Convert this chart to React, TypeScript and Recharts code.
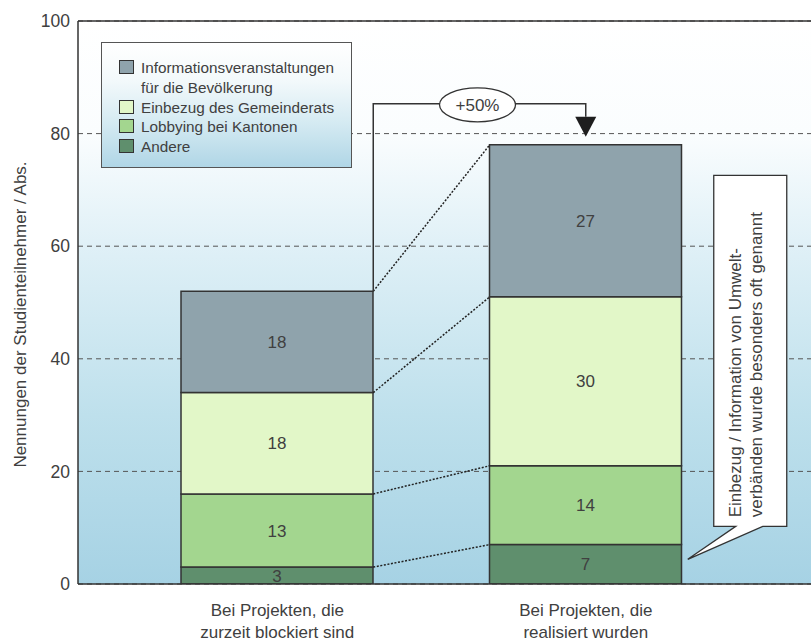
import {
  Bar,
  BarChart,
  CartesianGrid,
  LabelList,
  Legend,
  ReferenceDot,
  ReferenceLine,
  XAxis,
  YAxis,
} from 'recharts'

const FONT = '"Liberation Sans", Arial, Helvetica, sans-serif'
const TEXT = '#404040'
const LINE = '#333333'
const BAR_SIZE = 192

// data
const categories = ['blockiert', 'realisiert']
const tickLabels = [
  ['Bei Projekten, die', 'zurzeit blockiert sind'],
  ['Bei Projekten, die', 'realisiert wurden'],
]
const andere = [3, 7]
const lobbying = [13, 14]
const einbezug = [18, 30]
const information = [18, 27]
const yTicks = [0, 20, 40, 60, 80, 100]
const yLabel = 'Nennungen der Studienteilnehmer / Abs.'
const calloutLines = ['Einbezug / Information von Umwelt-', 'verbänden wurde besonders oft genannt']

// bottom to top
const series = [
  { key: 'andere', name: 'Andere', color: '#5f8f6d', values: andere },
  { key: 'lobbying', name: 'Lobbying bei Kantonen', color: '#a3d68f', values: lobbying },
  { key: 'einbezug', name: 'Einbezug des Gemeinderats', color: '#e2f7c8', values: einbezug },
  { key: 'information', name: 'Informationsveranstaltungen für die Bevölkerung', color: '#8fa3ac', values: information },
]

const data = categories.map((cat, i) => {
  const row: Record<string, string | number> = { cat }
  series.forEach((s) => { row[s.key] = s.values[i] })
  return row
})

// cumulative segment tops per category
const tops = categories.map((_, i) => {
  let sum = 0
  return series.map((s) => (sum += s.values[i]))
})
const total1 = tops[0][tops[0].length - 1]
const total2 = tops[1][tops[1].length - 1]
const growthLabel = `+${Math.round(((total2 - total1) / total1) * 100)}%`

function DottedLink(props: any) {
  const { x1, y1, x2, y2 } = props
  return (
    <line x1={x1 + BAR_SIZE / 2} y1={y1} x2={x2 - BAR_SIZE / 2} y2={y2}
      stroke="#222" strokeWidth={1.5} strokeDasharray="2 1.6" />
  )
}

function GrowthArrow(props: any) {
  const { x1, y1, x2, y2 } = props
  const sx = x1 + BAR_SIZE / 2
  const ly = y2 - 41
  const mx = (sx + x2) / 2 - 2
  return (
    <g>
      <path d={`M${sx},${y1} V${ly} H${x2} V${y2 - 28}`} fill="none" stroke={LINE} strokeWidth={1.5} />
      <path d={`M${x2 - 10.5},${y2 - 28} L${x2 + 10.5},${y2 - 28} L${x2},${y2 - 8} Z`} fill="#1e1e1e" />
      <ellipse cx={mx} cy={ly + 1} rx={38} ry={17} fill="#ffffff" stroke={LINE} strokeWidth={1.3} />
      <text x={mx} y={ly + 1} dy={6} textAnchor="middle" fontSize={17} fill={TEXT} fontFamily={FONT}>
        {growthLabel}
      </text>
    </g>
  )
}

function Callout(props: any) {
  const { cx, cy } = props
  const tx = cx + BAR_SIZE / 2 + 6
  const ty = cy - 5
  const left = tx + 26
  const right = tx + 99
  const top = ty - 384
  const bottom = ty - 33
  const d = `M${left},${top} H${right} V${bottom} H${tx + 75} L${tx},${ty} L${tx + 48},${bottom} H${left} Z`
  const bx = tx + 53
  const by = ty - 42
  return (
    <g>
      <path d={d} fill="#ffffff" stroke={LINE} strokeWidth={1.3} strokeLinejoin="miter" />
      <text transform={`rotate(-90 ${bx} ${by})`} x={bx} y={by} fontSize={17} fill={TEXT} fontFamily={FONT}>
        {calloutLines.map((l, i) => (
          <tspan key={i} x={bx} dy={i === 0 ? 0 : 21}>{l}</tspan>
        ))}
      </text>
    </g>
  )
}

function CategoryTick(props: any) {
  const { x, y, index } = props
  const lines = tickLabels[index] ?? []
  return (
    <text x={x} y={y} textAnchor="middle" fontSize={17} fill={TEXT} fontFamily={FONT}>
      {lines.map((l, i) => (
        <tspan key={i} x={x} dy={i === 0 ? 24 : 21.5}>{l}</tspan>
      ))}
    </text>
  )
}

function YLabel(props: any) {
  const vb = props.viewBox
  const x = vb.x + 8
  const y = vb.y + vb.height / 2 + 12
  return (
    <text transform={`rotate(-90 ${x} ${y})`} x={x} y={y} textAnchor="middle" fontSize={17} fill={TEXT} fontFamily={FONT}>
      {yLabel}
    </text>
  )
}

function LegendBox() {
  const items = [...series].reverse()
  return (
    <div style={{
      width: 251, height: 126, boxSizing: 'border-box', border: `1.5px solid #555`,
      background: 'linear-gradient(to bottom, #ffffff 0%, #f3f9fb 30%, #d4eaf2 65%, #b0d6e6 100%)',
      padding: '15px 0 0 16.5px', fontFamily: FONT, fontSize: 15.3, color: TEXT, lineHeight: '19.8px',
    }}>
      {items.map((s) => (
        <div key={s.key} style={{ display: 'flex', alignItems: 'flex-start' }}>
          <span style={{
            width: 15, height: 14, boxSizing: 'border-box', marginTop: 2, marginRight: 7.5,
            background: s.color, border: `1px solid ${LINE}`, flex: 'none',
          }} />
          <span style={{ width: 200 }}>{s.name}</span>
        </div>
      ))}
    </div>
  )
}

export default function App() {
  return (
    <div style={{ position: 'absolute', left: 0, top: 0, width: 811, height: 641, background: '#ffffff' }}>
      <BarChart width={811} height={641} data={data} margin={{ top: 21, right: 0, left: 18, bottom: 0 }}>
        <defs>
          <linearGradient id="plotBg" x1="0" y1="0" x2="0" y2="1">
            <stop offset="0%" stopColor="#ffffff" />
            <stop offset="20%" stopColor="#fafdfe" />
            <stop offset="42%" stopColor="#ddeff6" />
            <stop offset="70%" stopColor="#bee0ec" />
            <stop offset="100%" stopColor="#a6d2e4" />
          </linearGradient>
        </defs>
        <CartesianGrid vertical={false} stroke="#555" strokeDasharray="5 4" fill="url(#plotBg)" fillOpacity={1} />
        <XAxis
          dataKey="cat"
          height={57}
          padding={{ left: 45, right: 71 }}
          axisLine={{ stroke: LINE, strokeWidth: 1.5 }}
          tickLine={false}
          tick={<CategoryTick />}
          interval={0}
        />
        <YAxis
          width={60}
          domain={[0, 100]}
          ticks={yTicks}
          allowDataOverflow
          axisLine={{ stroke: LINE, strokeWidth: 1.5 }}
          tickLine={false}
          tick={{ fill: TEXT, fontSize: 17.5, fontFamily: FONT }}
          label={{ content: <YLabel /> }}
        />
        <ReferenceLine y={100} stroke={LINE} strokeWidth={1.5} />
        {series.map((s) => (
          <Bar key={s.key} dataKey={s.key} name={s.name} stackId="a" fill={s.color}
            stroke={LINE} strokeWidth={1.5} barSize={BAR_SIZE} isAnimationActive={false}>
            <LabelList dataKey={s.key} position="center" fill={TEXT} fontSize={17} fontFamily={FONT} />
          </Bar>
        ))}
        {tops[0].map((t, i) => (
          <ReferenceLine key={`link-${i}`} ifOverflow="visible"
            segment={[{ x: categories[0], y: t }, { x: categories[1], y: tops[1][i] }]}
            shape={<DottedLink />} />
        ))}
        <ReferenceLine ifOverflow="visible"
          segment={[{ x: categories[0], y: total1 }, { x: categories[1], y: total2 }]}
          shape={<GrowthArrow />} />
        <ReferenceDot x={categories[1]} y={andere[1] / 2} ifOverflow="visible" shape={<Callout />} />
        <Legend layout="vertical" align="center" verticalAlign="middle" content={<LegendBox />}
          wrapperStyle={{ left: 101, top: 42, width: 251, height: 126 }} />
      </BarChart>
    </div>
  )
}
